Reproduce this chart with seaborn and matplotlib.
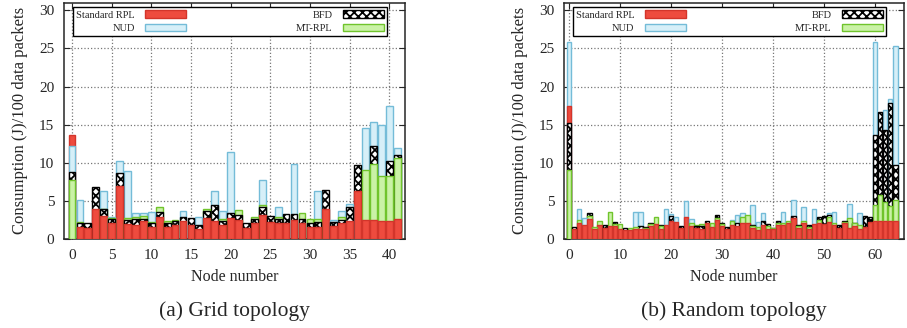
import numpy as np
import pandas as pd
import seaborn as sns
import matplotlib.pyplot as plt

nan = np.nan

# grid topology, nodes 0..41 (nan = bar not visible)
grid_rpl = [13.7, 1.55, 1.5, 4.0, 3.0, 2.15, 7.0, 2.0, 1.85, 2.4,
            1.6, 2.9, 1.6, 1.8, 2.3, 1.9, 1.35, 2.8, 2.35, 1.8,
            2.7, 2.5, 1.45, 2.15, 3.1, 2.2, 2.05, 2.15, 2.5, 2.15,
            1.6, 1.6, 3.9, 1.7, 2.15, 2.4, 6.35, 2.5, 2.5, 2.4,
            2.4, 2.6]
grid_bfd = [8.75, 2.05, 2.05, 6.8, 3.9, 2.6, 8.7, 2.5, 2.65, 2.6,
            2.1, 3.5, 2.05, 2.3, 2.85, 2.75, 1.8, 3.7, 4.4, 2.35,
            3.35, 3.15, 2.05, 2.6, 4.15, 3.0, 2.6, 3.25, 3.25, 2.6,
            2.1, 2.2, 6.4, 2.2, 2.5, 4.15, 9.7, nan, 12.2, nan,
            10.2, 11.0]
grid_nud = [12.25, 5.15, nan, nan, 6.3, 2.95, 10.2, 8.9, 3.45, 3.4,
            3.5, nan, nan, nan, 3.7, nan, 2.85, nan, 6.3, 3.7,
            11.45, nan, nan, nan, 7.8, nan, 4.15, nan, 9.8, nan,
            nan, 6.35, nan, 2.5, 3.7, 4.55, nan, 14.6, 15.35, 14.9,
            17.4, 11.9]
grid_mt = [7.7, 2.25, nan, nan, 4.0, 2.8, nan, 2.7, 2.85, 3.05,
           2.25, 4.15, 2.3, 2.5, nan, nan, nan, 4.0, nan, 2.6,
           nan, 3.8, nan, 2.85, 4.4, nan, 2.85, nan, nan, 3.35,
           2.6, 2.6, nan, nan, 2.85, nan, nan, 9.0, 9.9, 8.25,
           8.25, 10.6]

# random topology, nodes 0..64
rand_rpl = [17.45, 1.35, 2.05, 1.85, 2.6, 1.3, 1.85, 1.5, 1.7, 1.7,
            1.25, 1.2, 1.2, 1.25, 1.3, 1.35, 1.65, 1.95, 1.35, 1.85,
            2.3, 2.2, 1.45, 2.85, 1.7, 1.5, 1.3, 2.05, 1.6, 2.5,
            1.7, 1.25, 1.9, 1.7, 2.05, 2.15, 1.5, 1.2, 1.85, 1.25,
            1.25, 1.85, 1.85, 2.05, 2.7, 1.5, 2.05, 1.35, 1.95, 2.05,
            1.95, 2.25, 1.85, 1.5, 2.05, 1.5, 1.75, 1.3, 1.6, 2.25,
            2.4, 2.3, 2.3, 2.35, 2.3]
rand_bfd = [15.2, 1.55, nan, nan, 3.35, nan, nan, 1.8, nan, 2.2,
            nan, 1.4, nan, nan, 1.65, 1.6, 2.1, nan, 1.85, nan,
            3.0, nan, 1.65, nan, nan, 1.7, 1.7, 2.4, nan, 3.2,
            2.15, 1.6, nan, 2.15, nan, nan, 1.85, nan, 2.35, 1.95,
            1.5, 2.35, nan, nan, 3.0, 1.85, nan, 1.85, nan, 2.85,
            3.0, 3.15, nan, 1.85, 2.4, nan, 2.15, nan, 3.0, 2.9,
            13.7, 16.7, 14.3, 17.8, 9.7]
rand_nud = [25.9, nan, 3.9, 2.7, nan, nan, nan, nan, nan, nan,
            nan, nan, nan, 3.5, 3.5, nan, nan, nan, nan, 3.9,
            3.3, 2.95, nan, 5.0, 2.6, nan, nan, nan, nan, nan,
            nan, nan, 2.5, 3.15, 3.45, nan, 4.45, 2.25, 3.45, nan,
            nan, nan, 3.55, nan, 5.1, nan, 4.25, nan, 4.0, nan,
            nan, 3.45, 3.5, nan, nan, 4.55, nan, 3.35, nan, nan,
            25.8, nan, 16.9, 18.4, 25.3]
rand_mt = [9.05, nan, 2.5, nan, 3.0, 1.6, 2.3, nan, 3.5, 1.95,
           1.95, nan, 1.5, 1.6, nan, 1.5, 1.95, 2.85, 1.7, nan,
           nan, nan, nan, nan, 2.15, 1.85, 1.95, nan, 2.05, 2.7,
           1.95, nan, 2.3, nan, 2.9, 3.2, 1.7, 1.6, nan, 1.7,
           1.45, 2.15, 2.05, 2.35, nan, 1.7, 2.35, 1.6, nan, 2.5,
           nan, 2.85, 2.05, nan, 2.25, 2.8, 2.05, 1.85, nan, nan,
           4.45, 5.75, 4.9, 4.3, 5.1]

labels = ['Standard RPL', 'BFD', 'NUD', 'MT-RPL']
styles = {'Standard RPL': dict(color='#ee4b3e', edgecolor='#d3352b'),
          'BFD': dict(color='white', edgecolor='black', hatch='xxxx'),
          'NUD': dict(color='#d6eff8', edgecolor='#74bcd8'),
          'MT-RPL': dict(color='#caf2a6', edgecolor='#70c42c')}

sns.set_style('ticks')
plt.rcParams['font.family'] = ['Liberation Serif', 'DejaVu Serif']
plt.rcParams['hatch.linewidth'] = 1.3


def draw(ax, series, xmax, xticks, caption):
    n = len(series[0])
    nodes = np.arange(n)
    conts = {}
    for lab, vals in zip(labels, series):
        df = pd.DataFrame({'node': nodes, 'val': vals}).dropna()
        sns.barplot(data=df, x='node', y='val', native_scale=True, width=0.85,
                    errorbar=None, saturation=1, linewidth=1, ax=ax,
                    **styles[lab])
        conts[lab] = ax.containers[-1]
    # taller bars go behind the shorter ones
    for p in ax.patches:
        p.set_zorder(3 + (40 - p.get_height()) / 100)
    ax.set_xlim(-1, xmax)
    ax.set_ylim(0, 31)
    ax.set_xticks(xticks)
    ax.set_yticks(range(0, 31, 5))
    ax.tick_params(direction='in', top=True, right=True, length=4,
                   labelsize=11, width=0.8, pad=7)
    ax.set_axisbelow(True)
    ax.grid(True, ls=':', color='#777777', lw=0.9)
    for s in ax.spines.values():
        s.set_linewidth(1.1)
    ax.set_xlabel('Node number', fontsize=11.5, labelpad=5)
    ax.set_ylabel('Consumption (J)/100 data packets', fontsize=12, labelpad=8)
    h = [conts['Standard RPL'], conts['NUD'], conts['BFD'], conts['MT-RPL']]
    l = ['Standard RPL', 'NUD', 'BFD', 'MT-RPL']
    leg = ax.legend(h, l, ncol=2, markerfirst=False, loc='upper left',
                    bbox_to_anchor=(0.026, 0.70, 0.92, 0.282), mode='expand',
                    borderaxespad=0, fontsize=7.5, handlelength=3.9,
                    handleheight=0.75, handletextpad=1.0, labelspacing=0.4,
                    borderpad=0.3, fancybox=False, framealpha=1)
    leg.get_frame().set_edgecolor('black')
    leg.get_frame().set_linewidth(1)
    leg.set_zorder(10)
    pos = ax.get_position()
    ax.figure.text(pos.x0 + pos.width / 2, 0.05, caption, ha='center',
                   va='center', fontsize=15.5)


fig = plt.figure(figsize=(9.07, 3.28), dpi=100)
ax1 = fig.add_axes([0.0706, 0.2713, 0.376, 0.7205])
ax2 = fig.add_axes([0.6218, 0.2713, 0.3749, 0.7205])
draw(ax1, [grid_rpl, grid_bfd, grid_nud, grid_mt], 42, range(0, 41, 5),
     '(a) Grid topology')
draw(ax2, [rand_rpl, rand_bfd, rand_nud, rand_mt], 65.7, range(0, 61, 10),
     '(b) Random topology')
fig.savefig('out.png', dpi=100)
